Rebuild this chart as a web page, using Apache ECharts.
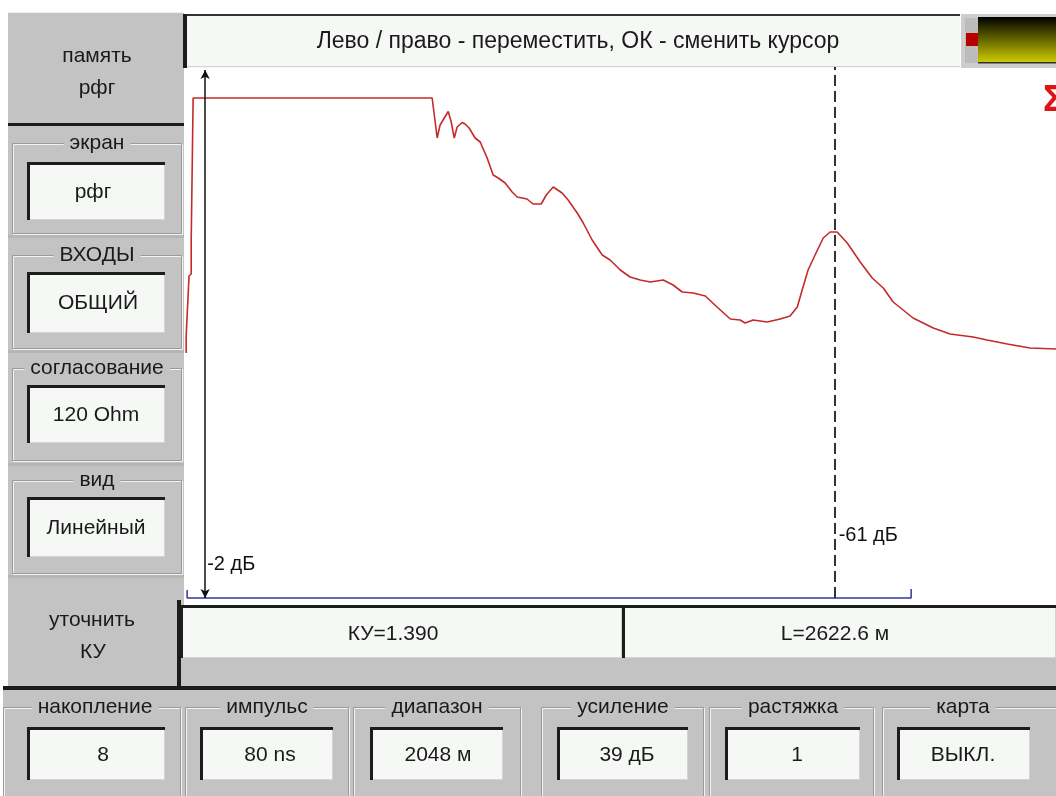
<!DOCTYPE html>
<html><head><meta charset="utf-8">
<script src="https://cdn.jsdelivr.net/npm/echarts@6/dist/echarts.min.js"></script>
<style>html,body{margin:0;padding:0;background:#fff}#c{width:1056px;height:796px}</style>
</head><body><div id="c"></div>
<script>
// ---- data ----
const distanceM = [-79,-79,-71,-67,-58,-58,-50,-50,895,899,912,945,966,978,1012,1024,1037,1049,1070,1082,1099,1124,1145,1174,1199,1220,1249,1278,1299,1340,1365,1399,1420,1449,1486,1511,1549,1574,1611,1653,1686,1728,1769,1811,1853,1907,1948,1986,2032,2082,2131,2186,2227,2248,2281,2340,2394,2435,2465,2489,2510,2539,2573,2602,2631,2673,2727,2777,2823,2864,2947,3031,3101,3197,3255,3339,3434,3542];
const amplitude = [49.0,52.4,52.8,64.4,64.8,71.6,72.0,100,100,99.6,100,100,92.0,94.6,97.3,95.3,92.0,94.2,95.1,94.8,94.0,92.0,91.2,88.0,84.6,84.0,83.0,81.2,80.2,79.8,78.8,78.8,80.6,82.2,81.0,79.6,77.0,75.0,71.6,68.6,67.6,65.6,64.2,63.6,63.2,63.6,62.6,61.2,61.0,60.4,58.2,55.8,55.6,55.0,55.6,55.2,55.8,56.4,58.2,62.2,65.6,68.6,72.0,73.2,73.2,71.0,67.2,64.0,62.0,59.2,56.0,54.0,52.8,52.2,51.6,50.8,50.0,49.8];
const markerDist = 0;
const cursorDist = 2622.6;
const markerLabel = '-2 дБ';
const cursorLabel = '-61 дБ';
const bracketDist = [-75, 2939];
const message = 'Лево / право - переместить, ОК - сменить курсор';
const leftButtonTop = ['память', 'рфг'];
const leftButtonBottom = ['уточнить', 'КУ'];
const leftTitles = ['экран', 'ВХОДЫ', 'согласование', 'вид'];
const leftValues = ['рфг', 'ОБЩИЙ', '120 Ohm', 'Линейный'];
const bottomTitles = ['накопление', 'импульс', 'диапазон', 'усиление', 'растяжка', 'карта'];
const bottomValues = ['8', '80 ns', '2048 м', '39 дБ', '1', 'ВЫКЛ.'];
const kuText = 'КУ=1.390';
const lText = 'L=2622.6 м';

// ---- chrome ----
const GRAY = '#c3c3c3', BOX = '#f5f8f5', DARK = '#1c1c1c', INK = '#1a1a1a';
const FONT = '"Liberation Sans", Arial, sans-serif';
const G = [];
function R(x, y, w, h, fill, z) { G.push({type:'rect', silent:true, z: z || 1, shape:{x, y, width:w, height:h}, style:{fill}}); }
function T(x, y, t, size, extra, z) {
  G.push({type:'text', silent:true, z: z || 6, x, y,
    style: Object.assign({text:t, fill:INK, font: size + 'px ' + FONT, textAlign:'center', verticalAlign:'middle'}, extra || {})});
}
function frame(x1, y1, x2, y2) {
  G.push({type:'rect', silent:true, z:2, shape:{x:x1+1.5, y:y1+1.5, width:x2-x1, height:y2-y1}, style:{fill:null, stroke:'#f3f3f3', lineWidth:1}});
  G.push({type:'rect', silent:true, z:2, shape:{x:x1+0.5, y:y1+0.5, width:x2-x1, height:y2-y1}, style:{fill:null, stroke:'#9a9a9a', lineWidth:1}});
}
function vbox(x1, y1, x2, y2) {
  R(x1, y1, x2-x1, y2-y1, BOX, 3);
  R(x1, y2-1, x2-x1, 1, '#d4d4d4', 4);
  R(x2-1, y1, 1, y2-y1, '#d4d4d4', 4);
  R(x1, y1, x2-x1, 3, DARK, 4);
  R(x1, y1, 3, y2-y1, DARK, 4);
}
const titleBg = {backgroundColor: GRAY, padding: [0, 6]};

// left column
R(8, 12, 176, 676, GRAY, 0);
R(8, 12, 176, 1, '#efefef', 1);
R(8, 123, 176, 3, DARK, 4);
T(97, 56, leftButtonTop[0], 21);
T(97, 88, leftButtonTop[1], 21);
const lf = [[143,233],[255,348],[368,460],[480,573]];
const lb = [[162,220],[272,333],[385,443],[497,557]];
const lvx = [93, 98, 96, 96];
[235, 350, 463, 575].forEach(y => R(8, y, 176, 3, '#b6b6b6', 1));
for (let i = 0; i < 4; i++) {
  frame(12, lf[i][0], 181, lf[i][1]);
  T(97, lf[i][0], leftTitles[i], 21, titleBg);
  vbox(27, lb[i][0], 165, lb[i][1]);
  T(lvx[i], (lb[i][0] + lb[i][1]) / 2 + 1, leftValues[i], 21);
}
T(92, 620, leftButtonBottom[0], 21);
T(93, 652, leftButtonBottom[1], 21);
R(177, 600, 4, 90, DARK, 4);

// message bar
R(183, 14, 777, 54, BOX, 3);
R(183, 66, 777, 1, '#d2d2d2', 4);
R(183, 14, 777, 2, '#333', 4);
R(183, 14, 4, 54, DARK, 4);
T(578, 42, message, 23);

// indicator
R(961, 14, 95, 54, '#cdcdcd', 3);
R(965, 18, 13, 45, '#bcbcbc', 4);
R(966, 33, 12, 13, '#b80000', 5);
G.push({type:'rect', silent:true, z:4, shape:{x:978, y:17, width:78, height:46},
  style:{fill: new echarts.graphic.LinearGradient(0, 0, 0, 1, [{offset:0, color:'#000000'}, {offset:1, color:'#cfcf00'}])}});
R(978, 62, 78, 1.5, '#333', 5);
T(1043, 101, 'Σ', 36, {fill:'#e01414', font:'bold 36px ' + FONT, textAlign:'left'});

// KY / L boxes
R(180, 658, 876, 30, GRAY, 0);
vbox(180, 605, 622, 658);
vbox(622, 605, 1056, 658);
T(393, 634, kuText, 21);
T(835, 634, lText, 21);
R(3, 686, 1053, 4, DARK, 4);

// bottom groups
R(3, 690, 1053, 106, GRAY, 0);
const bf = [[3,180],[185,348],[353,520],[541,703],[709,873],[882,1062]];
const bb = [[27,165],[200,333],[370,503],[557,688],[725,860],[897,1030]];
const btx = [95, 267, 437, 623, 793, 963];
const bvx = [103, 270, 438, 627, 797, 963];
for (let i = 0; i < 6; i++) {
  frame(bf[i][0], 707, bf[i][1], 805);
  T(btx[i], 707, bottomTitles[i], 21, titleBg);
  vbox(bb[i][0], 727, bb[i][1], 780);
  T(bvx[i], 755, bottomValues[i], 21);
}

// ---- chart ----
const chart = echarts.init(document.getElementById('c'), null, {renderer:'canvas', width:1056, height:796});
const trace = distanceM.map((d, i) => [d, amplitude[i]]);
chart.setOption({
  animation: false,
  backgroundColor: '#ffffff',
  grid: {left:184, right:0, top:67, bottom:198},
  xAxis: {type:'value', min:-88, max:3542, show:false},
  yAxis: {type:'value', min:0, max:106.2, show:false},
  graphic: G,
  series: [
    {
      type:'line', data: trace, symbol:'none', z:3,
      lineStyle:{color:'#c42a2a', width:1.6},
      markLine: {
        silent:true, animation:false, symbol:['none','none'], label:{show:false},
        data: [
          [{coord:[markerDist, 0], symbol:'arrow', symbolSize:[7,9], lineStyle:{color:'#111', width:1.5, type:'solid'}},
           {coord:[markerDist, 105.6], symbol:'arrow', symbolSize:[7,9]}],
          [{coord:[cursorDist, 0], symbol:'none', lineStyle:{color:'#333', width:2, type:[11,5]}},
           {coord:[cursorDist, 106.2], symbol:'none'}]
        ]
      }
    },
    {
      type:'line', symbol:'none', clip:false, z:4,
      lineStyle:{color:'#3434a8', width:1.5},
      data: [[bracketDist[0], 1.6], [bracketDist[0], 0], [bracketDist[1], 0], [bracketDist[1], 1.8]]
    },
    {
      type:'scatter', symbolSize:1, itemStyle:{color:'rgba(0,0,0,0)'}, z:5,
      label:{show:true, position:'right', formatter:'{b}', color:'#111111', opacity:1, fontSize:20, fontFamily:'Liberation Sans'},
      emphasis:{disabled:true},
      data: [
        {name: markerLabel, value:[markerDist, 6.8], label:{distance:1.5, color:'#111111'}},
        {name: cursorLabel, value:[cursorDist, 12.6], label:{distance:3, color:'#111111'}}
      ]
    }
  ]
});
</script>
</body></html>
